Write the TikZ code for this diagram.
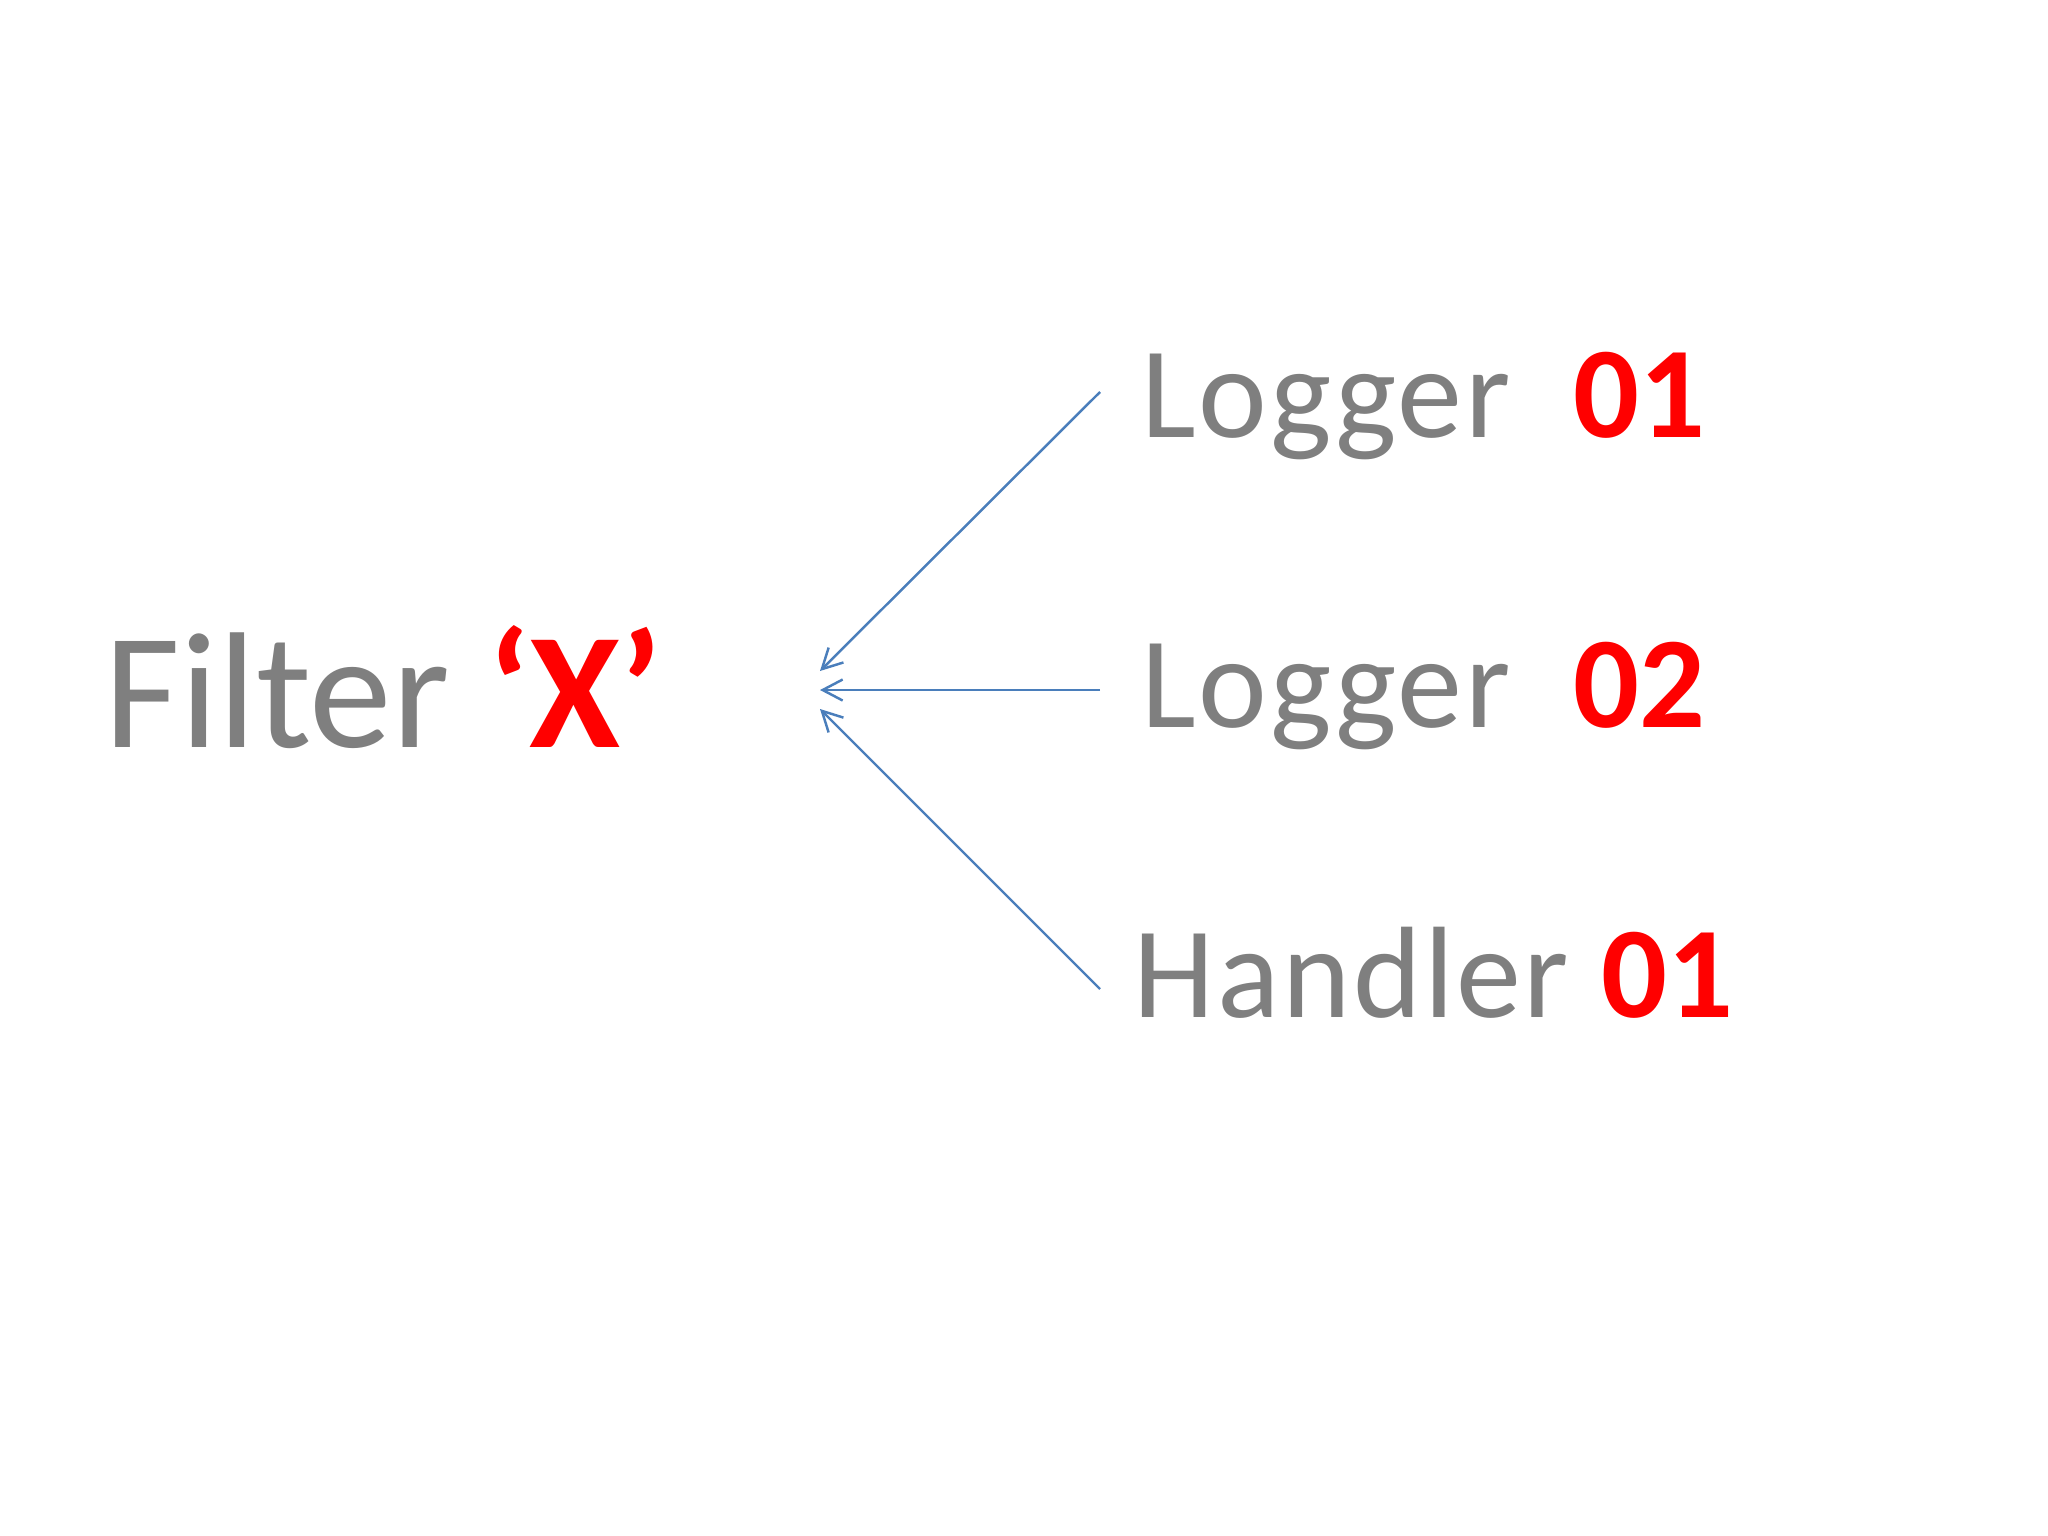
\documentclass[tikz,border=0pt]{standalone}
\usepackage{fontspec}
\setmainfont{Carlito}
\newfontfamily\widefont[LetterSpace=2.0]{Carlito}
\usetikzlibrary{arrows.meta}
\definecolor{txtgray}{RGB}{127,127,127}
\definecolor{txtred}{RGB}{255,0,0}
\definecolor{arrblue}{RGB}{74,126,187}
\tikzset{
  lbl/.style={anchor=base west, inner sep=0pt, text=txtgray, font=\fontsize{37}{44}\selectfont},
  biglbl/.style={anchor=base west, inner sep=0pt, text=txtgray, font=\fontsize{47}{56}\selectfont},
  conn/.style={draw=arrblue, line width=0.7pt, -{Straight Barb[length=2mm,width=2.1mm,line width=0.7pt]}}
}
\begin{document}
\begin{tikzpicture}[x=0.01cm,y=-0.01cm]
\useasboundingbox (0,0) rectangle (2048,1536);
\node[biglbl] (filter) at (104,747) {Filter \textcolor{txtred}{\bfseries ‘X’}};
\node[lbl] (log1) at (1141,437) {{\widefont Logger}\hspace{0.63cm}\textcolor{txtred}{\bfseries 01}};
\node[lbl] (log2) at (1141,727) {{\widefont Logger}\hspace{0.63cm}\textcolor{txtred}{\bfseries 02}};
\node[lbl] (hand) at (1133,1017) {{\widefont Handler}\hspace{0.32cm}\textcolor{txtred}{\bfseries 01}};
\coordinate (s1) at (1100,392);
\coordinate (s2) at (1100,690);
\coordinate (s3) at (1100,989);
\coordinate (t1) at (820,671);
\coordinate (t2) at (820,690);
\coordinate (t3) at (820,709);
\draw[conn] (s1) -- (t1);
\draw[conn] (s2) -- (t2);
\draw[conn] (s3) -- (t3);
\end{tikzpicture}
\end{document}
